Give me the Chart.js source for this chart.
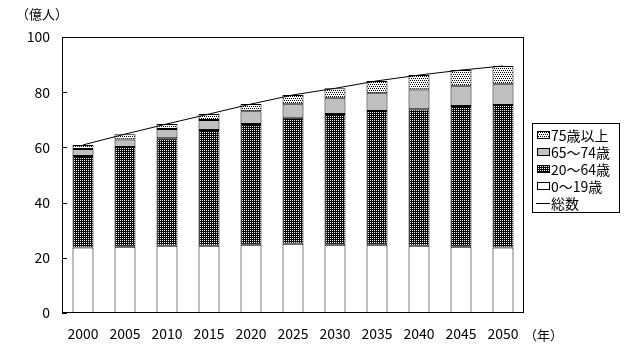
<!DOCTYPE html>
<html>
<head>
<meta charset="utf-8">
<script src="https://cdn.jsdelivr.net/npm/chart.js@4/dist/chart.umd.min.js"></script>
<style>
  html, body { margin: 0; padding: 0; background: #fff; }
  #wrap { width: 628px; height: 349px; }
</style>
</head>
<body>
<div id="wrap"><canvas id="pop" width="628" height="349"></canvas></div>
<script>
// World population by age group (億人)
const years = ['2000', '2005', '2010', '2015', '2020', '2025', '2030', '2035', '2040', '2045', '2050'];
const age0to19 = [23.7, 24.0, 24.4, 24.4, 24.7, 25.1, 24.7, 24.7, 24.4, 24.0, 23.7];
const age20to64 = [33.2, 36.1, 38.9, 41.9, 43.8, 45.6, 47.4, 48.5, 49.4, 51.0, 51.7];
const age65to74 = [2.5, 2.8, 3.4, 3.6, 4.6, 4.9, 5.7, 6.4, 7.2, 7.2, 7.5];
const age75plus = [1.5, 1.9, 1.8, 2.2, 2.6, 3.4, 3.6, 4.5, 5.2, 5.8, 6.6];
const totals = [60.9, 64.8, 68.5, 72.1, 75.7, 79.0, 81.4, 84.1, 86.2, 88.0, 89.5];
const yTicks = [0, 20, 40, 60, 80, 100];

const FONT = '"Noto Sans CJK JP", "Liberation Sans", sans-serif';

// small dotted fills
function dotPattern(bg, fg, size, dots) {
  const c = document.createElement('canvas');
  c.width = size; c.height = size;
  const g = c.getContext('2d');
  g.fillStyle = bg;
  g.fillRect(0, 0, size, size);
  g.fillStyle = fg;
  dots.forEach(d => g.fillRect(d[0], d[1], 1, 1));
  return g.createPattern(c, 'repeat');
}
const ctx = document.getElementById('pop').getContext('2d');
const fillOld = dotPattern('#ffffff', '#000000', 4, [[0, 0], [2, 0], [1, 2], [3, 2]]);
const fillWork = dotPattern('#000000', '#ffffff', 2, [[0, 0]]);
const fillMid = '#c0c0c0';

// frame, inner ticks, unit labels and boxed legend
const decor = {
  id: 'decor',
  afterDraw(chart) {
    const c = chart.ctx;
    const a = chart.chartArea;
    const y = chart.scales.y;
    c.save();
    c.strokeStyle = '#000';
    c.lineWidth = 1;
    c.strokeRect(Math.round(a.left) + 0.5, Math.round(a.top) + 0.5,
      Math.round(a.right - a.left) - 1, Math.round(a.bottom - a.top) - 1);
    yTicks.forEach(v => {
      const py = Math.round(y.getPixelForValue(v)) + 0.5;
      c.beginPath();
      c.moveTo(a.left, py);
      c.lineTo(a.left + 5, py);
      c.stroke();
    });

    c.fillStyle = '#000';
    c.font = '13px ' + FONT;
    c.textBaseline = 'middle';
    c.textAlign = 'left';
    c.fillText('（億人）', 16, 14);
    c.fillText('（年）', 524, 335);

    // legend
    c.font = '14px ' + FONT;
    c.strokeRect(532.5, 123.5, 87, 89);
    const ds = chart.data.datasets;
    const items = [ds[3], ds[2], ds[1], ds[0], ds[4]];
    items.forEach((d, i) => {
      const cy = 135 + i * 17;
      if (d.type === 'line') {
        c.beginPath();
        c.moveTo(536, cy + 0.5);
        c.lineTo(550, cy + 0.5);
        c.stroke();
      } else {
        c.fillStyle = d.backgroundColor;
        c.fillRect(537, cy - 4, 13, 8);
        c.strokeRect(537.5, cy - 3.5, 12, 7);
      }
      c.fillStyle = '#000';
      c.fillText(d.label, 551, cy + 1);
    });
    c.restore();
  }
};

const barBase = { borderColor: '#000', borderWidth: 1, borderSkipped: false, stack: 'pop', order: 1 };

new Chart(ctx, {
  type: 'bar',
  data: {
    labels: years,
    datasets: [
      Object.assign({ label: '0～19歳', data: age0to19, backgroundColor: '#ffffff' }, barBase),
      Object.assign({ label: '20～64歳', data: age20to64, backgroundColor: fillWork }, barBase),
      Object.assign({ label: '65～74歳', data: age65to74, backgroundColor: fillMid }, barBase),
      Object.assign({ label: '75歳以上', data: age75plus, backgroundColor: fillOld }, barBase),
      {
        type: 'line', label: '総数', data: totals, stack: 'total', order: 0,
        borderColor: '#000', borderWidth: 1, pointRadius: 0, tension: 0, fill: false
      }
    ]
  },
  options: {
    responsive: false,
    animation: false,
    devicePixelRatio: 1,
    layout: { padding: { top: 37, right: 104, left: 0, bottom: 0 } },
    datasets: { bar: { barPercentage: 0.5, categoryPercentage: 1.0 } },
    plugins: { legend: { display: false }, tooltip: { enabled: false } },
    scales: {
      x: {
        stacked: true,
        grid: { display: false, drawTicks: false },
        border: { display: false },
        ticks: { color: '#000', font: { family: FONT, size: 14 }, padding: 12, maxRotation: 0 },
        afterFit(s) { s.height = 36; }
      },
      y: {
        stacked: true,
        min: 0, max: 100,
        grid: { display: false, drawTicks: false },
        border: { display: false },
        ticks: { stepSize: 20, color: '#000', font: { family: FONT, size: 14 }, padding: 12 },
        afterFit(s) { s.width = 62; }
      }
    }
  },
  plugins: [decor]
});
</script>
</body>
</html>
